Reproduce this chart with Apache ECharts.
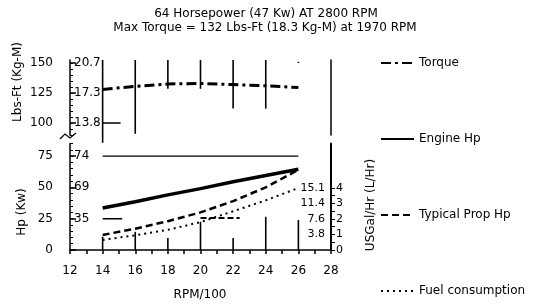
<!DOCTYPE html>
<html lang="en">
  <head>
    <meta charset="UTF-8" />
    <title>Engine curves</title>
    <script src="https://cdn.jsdelivr.net/npm/echarts@6/dist/echarts.min.js"></script>
    <style>
      body { margin: 0; background: #fff; }
    </style>
  </head>
  <body>
    <div id="main" style="width: 536px; height: 304px"></div>
    <script type="text/javascript">
      // values
      let rpm = [14, 16, 18, 20, 22, 24, 26]
      let torque = [128, 130.5, 132.5, 133, 132, 131, 129.5]
      let engineHp = [33.5, 38.5, 44, 49, 54.5, 59.5, 64.5]
      let propHp = [12, 17, 23, 30, 39, 50, 64]
      let fuelGph = [0.65, 0.95, 1.3, 1.8, 2.5, 3.2, 4.0]

      // vertical strokes on the sheet (top / bottom values)
      let upperTop = [152.5, 152.5, 152.5, 152.5, 152.5, 152.5, 151]
      let upperBottom = [83.5, 91, 128.5, 128.5, 112, 112, 150]
      let lowerTop = [10.5, 14.5, 9.5, 22.5, 9.5, 26.5, 24]

      // stray straight strokes
      let maxHpLine = [[14, 75], [26, 75]]
      let torqueStub = [[14, 100], [15.1, 100]]
      let hpStub = [[14, 25], [15.2, 25]]
      let hpDash = [[20, 25.5], [22.4, 25.5]]

      // tick labels
      let xTicks = [12, 14, 16, 18, 20, 22, 24, 26, 28]
      let torqueTicks = [100, 125, 150]
      let kgmLabels = { 100: "13.8", 125: "17.3", 150: "20.7" }
      let hpTicks = [0, 25, 50, 75]
      let kwLabels = { 25: "35", 50: "69", 75: "74" }
      let gphTicks = [0, 1, 2, 3, 4]
      let lphLabels = { 1: "3.8", 2: "7.6", 3: "11.4", 4: "15.1" }

      const font = "DejaVu Sans"
      const black = "#000"

      function steps(a, b, s) {
        let out = []
        for (let v = a; v <= b + 1e-9; v += s) out.push(+v.toFixed(2))
        return out
      }

      function pairs(ys) {
        return rpm.map((x, i) => [x, ys[i]])
      }

      let vlines = function (params, api) {
        const p1 = api.coord([api.value(0), api.value(1)])
        const p2 = api.coord([api.value(0), api.value(2)])
        return {
          type: "line",
          shape: { x1: p1[0], y1: p1[1], x2: p2[0], y2: p2[1] },
          style: { stroke: black, lineWidth: 1.6 },
        }
      }

      function centered(text, x, y, rot) {
        return {
          type: "text", x: x, y: y, rotation: rot || 0,
          style: {
            text: text, font: "12px " + font, fill: black,
            textAlign: "center", textVerticalAlign: "middle", align: "center", verticalAlign: "middle",
          },
        }
      }

      let options = {
        animation: false,
        textStyle: { fontFamily: font, color: black },
        grid: [
          { left: 70, right: 205, top: 60, height: 75 },
          { left: 70, right: 205, top: 143.5, height: 106.5 },
        ],
        xAxis: [
          { gridIndex: 0, type: "value", min: 12, max: 28, show: false },
          {
            gridIndex: 1, type: "value", min: 12, max: 28,
            axisLine: { lineStyle: { color: black, width: 1.5 } },
            axisTick: { customValues: steps(12, 28, 1), length: 4, lineStyle: { color: black, width: 1.5 } },
            axisLabel: { customValues: xTicks, margin: 15, fontSize: 12, color: black, fontFamily: font },
            splitLine: { show: false },
          },
        ],
        yAxis: [
          {
            gridIndex: 0, type: "value", min: 90, max: 152.5, position: "left",
            axisLine: { show: true, lineStyle: { color: black, width: 1.5 } },
            axisTick: { show: true, inside: true, length: 3, customValues: steps(90, 150, 5), lineStyle: { color: black } },
            axisLabel: { customValues: torqueTicks, margin: 17, fontSize: 12, color: black, fontFamily: font },
            splitLine: { show: false },
          },
          {
            gridIndex: 0, type: "value", min: 90, max: 152.5, position: "left",
            axisLine: { show: false },
            axisTick: { show: true, inside: true, length: 6, customValues: torqueTicks, lineStyle: { color: black, width: 1.5 } },
            axisLabel: {
              inside: true, margin: 4, customValues: torqueTicks, fontSize: 12, color: black, fontFamily: font,
              formatter: (v) => kgmLabels[v] || "",
            },
            splitLine: { show: false },
          },
          {
            gridIndex: 1, type: "value", min: 0, max: 85, position: "left",
            axisLine: { show: true, lineStyle: { color: black, width: 1.5 } },
            axisTick: { show: true, inside: true, length: 3, customValues: steps(0, 85, 5), lineStyle: { color: black } },
            axisLabel: { customValues: hpTicks, margin: 17, fontSize: 12, color: black, fontFamily: font },
            splitLine: { show: false },
          },
          {
            gridIndex: 1, type: "value", min: 0, max: 85, position: "left",
            axisLine: { show: false },
            axisTick: { show: true, inside: true, length: 6, customValues: hpTicks, lineStyle: { color: black, width: 1.5 } },
            axisLabel: {
              inside: true, margin: 4, customValues: [25, 50, 75], fontSize: 12, color: black, fontFamily: font,
              formatter: (v) => kwLabels[v] || "",
            },
            splitLine: { show: false },
          },
          {
            gridIndex: 1, type: "value", min: 0, max: 6.87, position: "right",
            axisLine: { show: true, lineStyle: { color: black, width: 2 } },
            axisTick: { show: true, length: 4, customValues: steps(0, 4, 0.5), lineStyle: { color: black } },
            axisLabel: { customValues: gphTicks, margin: 5, fontSize: 11, color: black, fontFamily: font },
            splitLine: { show: false },
          },
          {
            gridIndex: 1, type: "value", min: 0, max: 6.87, position: "right",
            axisLine: { show: false },
            axisTick: { show: false },
            axisLabel: {
              inside: true, margin: 6, customValues: [1, 2, 3, 4], fontSize: 11, color: black, fontFamily: font,
              formatter: (v) => lphLabels[v] || "",
            },
            splitLine: { show: false },
          },
          {
            gridIndex: 0, type: "value", min: 0, max: 1, position: "right",
            axisLine: { show: true, lineStyle: { color: black, width: 1.5 } },
            axisTick: { show: false },
            axisLabel: { show: false },
            splitLine: { show: false },
          },
        ],
        legend: {
          data: ["Torque", "Engine Hp", "Typical Prop Hp", "Fuel consumption"],
          orient: "vertical",
          left: 380,
          top: 57,
          padding: 0,
          itemWidth: 33,
          itemHeight: 12,
          itemGap: 64,
          itemStyle: { opacity: 0 },
          textStyle: { fontSize: 12, color: black, fontFamily: font },
        },
        graphic: [
          {
            type: "text", x: 8, y: -10,
            style: { text: "ENGINE PERFORMANCE CURVES", font: "bold 12px " + font, fill: black },
          },
          centered("64 Horsepower (47 Kw) AT 2800 RPM", 266, 14),
          centered("Max Torque = 132 Lbs-Ft (18.3 Kg-M) at 1970 RPM", 265, 28),
          centered("Lbs-Ft (Kg-M)", 18, 82, Math.PI / 2),
          centered("Hp (Kw)", 22, 212, Math.PI / 2),
          centered("USGal/Hr (L/Hr)", 371, 205, Math.PI / 2),
          centered("RPM/100", 200, 295),
          {
            type: "polyline",
            shape: { points: [[60, 139], [65, 134], [70, 138], [76, 133]] },
            style: { stroke: black, lineWidth: 1.2, fill: null },
          },
        ],
        series: [
          {
            name: "Torque", type: "line", xAxisIndex: 0, yAxisIndex: 0,
            data: pairs(torque), symbol: "none",
            lineStyle: { color: black, width: 3, type: [10, 4, 3, 4] },
            itemStyle: { color: black },
          },
          {
            type: "custom", xAxisIndex: 0, yAxisIndex: 0, clip: false,
            renderItem: vlines,
            data: rpm.map((x, i) => [x, upperTop[i], upperBottom[i]]),
            silent: true,
          },
          {
            type: "line", xAxisIndex: 0, yAxisIndex: 0, data: torqueStub, symbol: "none",
            lineStyle: { color: black, width: 1.5 },
          },
          {
            name: "Engine Hp", type: "line", xAxisIndex: 1, yAxisIndex: 2,
            data: pairs(engineHp), symbol: "none",
            lineStyle: { color: black, width: 3.5 },
            itemStyle: { color: black },
          },
          {
            name: "Typical Prop Hp", type: "line", xAxisIndex: 1, yAxisIndex: 2,
            data: pairs(propHp), symbol: "none",
            lineStyle: { color: black, width: 2.5, type: [7, 4] },
            itemStyle: { color: black },
          },
          {
            name: "Fuel consumption", type: "line", xAxisIndex: 1, yAxisIndex: 4,
            data: pairs(fuelGph), symbol: "none",
            lineStyle: { color: black, width: 2, type: [2, 4] },
            itemStyle: { color: black },
          },
          {
            type: "custom", xAxisIndex: 1, yAxisIndex: 2, clip: false,
            renderItem: vlines,
            data: rpm.map((x, i) => [x, lowerTop[i], 0]),
            silent: true,
          },
          {
            type: "line", xAxisIndex: 1, yAxisIndex: 2, data: maxHpLine, symbol: "none",
            lineStyle: { color: black, width: 1.2 },
          },
          {
            type: "line", xAxisIndex: 1, yAxisIndex: 2, data: hpStub, symbol: "none",
            lineStyle: { color: black, width: 1.5 },
          },
          {
            type: "line", xAxisIndex: 1, yAxisIndex: 2, data: hpDash, symbol: "none",
            lineStyle: { color: black, width: 2, type: [6, 3] },
          },
        ],
      }

      let myChart = echarts.init(document.getElementById("main"))
      myChart.setOption(options)
    </script>
  </body>
</html>
